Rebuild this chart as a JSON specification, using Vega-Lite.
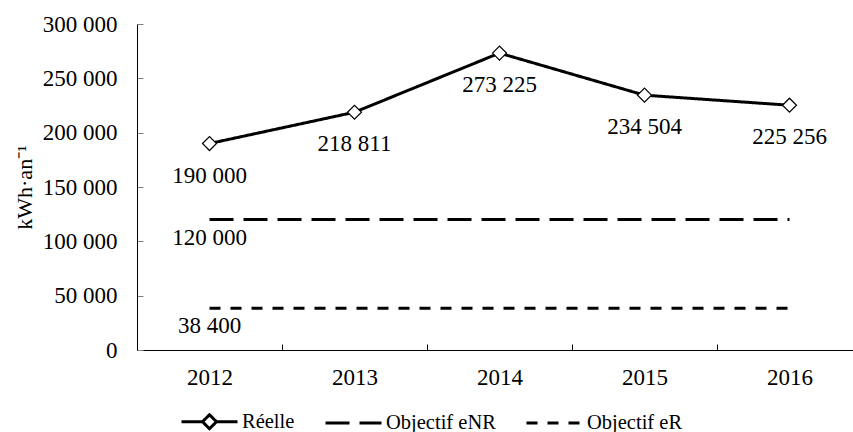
{
  "$schema": "https://vega.github.io/schema/vega-lite/v6.json",
  "width": 716,
  "height": 326,
  "autosize": {"type": "none"},
  "padding": {"left": 137, "top": 24, "right": 0, "bottom": 82},
  "background": "white",
  "config": {
    "font": "Liberation Serif",
    "view": {"stroke": null},
    "locale": {"number": {"decimal": ",", "thousands": "\u00a0", "grouping": [3], "currency": ["", " €"]}}
  },
  "data": {
    "values": [
      {"annee": "2012", "serie": "Réelle", "valeur": 190000},
      {"annee": "2013", "serie": "Réelle", "valeur": 218811},
      {"annee": "2014", "serie": "Réelle", "valeur": 273225},
      {"annee": "2015", "serie": "Réelle", "valeur": 234504},
      {"annee": "2016", "serie": "Réelle", "valeur": 225256},
      {"annee": "2012", "serie": "Objectif eNR", "valeur": 120000},
      {"annee": "2013", "serie": "Objectif eNR", "valeur": 120000},
      {"annee": "2014", "serie": "Objectif eNR", "valeur": 120000},
      {"annee": "2015", "serie": "Objectif eNR", "valeur": 120000},
      {"annee": "2016", "serie": "Objectif eNR", "valeur": 120000},
      {"annee": "2012", "serie": "Objectif eR", "valeur": 38400},
      {"annee": "2013", "serie": "Objectif eR", "valeur": 38400},
      {"annee": "2014", "serie": "Objectif eR", "valeur": 38400},
      {"annee": "2015", "serie": "Objectif eR", "valeur": 38400},
      {"annee": "2016", "serie": "Objectif eR", "valeur": 38400}
    ]
  },
  "encoding": {
    "x": {
      "field": "annee", "type": "nominal",
      "scale": {"type": "band", "paddingInner": 0, "paddingOuter": 0, "range": [0, 725]},
      "axis": {
        "title": null, "labelAngle": 0, "labelFontSize": 23, "labelColor": "black",
        "tickSize": -6, "tickColor": "black", "domainColor": "black", "tickBand": "extent",
        "labelPadding": 22, "grid": false
      }
    },
    "y": {
      "field": "valeur", "type": "quantitative",
      "scale": {"domain": [0, 300000], "nice": false},
      "axis": {
        "title": "kWh·an⁻¹", "values": [0, 50000, 100000, 150000, 200000, 250000, 300000],
        "format": ",.0f", "labelFontSize": 23, "labelColor": "black",
        "tickSize": -6, "tickColor": "#808080", "domainColor": "black",
        "labelPadding": 26, "titleFontSize": 22, "titleFontWeight": "normal", "titleColor": "black",
        "titlePadding": 6, "grid": false
      }
    }
  },
  "layer": [
    {
      "mark": {"type": "line", "color": "black", "strokeWidth": 3},
      "encoding": {
        "strokeDash": {
          "field": "serie", "type": "nominal",
          "scale": {"domain": ["Réelle", "Objectif eNR", "Objectif eR"], "range": [[1, 0], [24, 10], [11, 10]]},
          "legend": {
            "title": null, "orient": "none", "legendX": 43, "legendY": 368, "direction": "horizontal",
            "symbolType": "stroke", "symbolSize": 3136, "symbolStrokeWidth": 3, "symbolStrokeColor": "black",
            "labelFontSize": 20.5, "labelColor": "black", "labelFont": "Liberation Serif",
            "columnPadding": 24, "labelOffset": 3,
            "encode": {
              "symbols": {
                "update": {
                  "shape": {"signal": "datum.value === 'Réelle' ? 'M-1,0L-0.25,0M0,-0.25L0.25,0L0,0.25L-0.25,0ZM0.25,0L1,0' : 'stroke'"},
                  "strokeDash": {"signal": "datum.value === 'Objectif eNR' ? [26,5] : datum.value === 'Objectif eR' ? [13,8] : [1,0]"},
                  "fill": {"value": "white"},
                  "stroke": {"value": "black"}
                }
              }
            }
          }
        }
      }
    },
    {
      "transform": [{"filter": "datum.serie === 'Réelle'"}],
      "mark": {"type": "point", "shape": "diamond", "filled": true, "fill": "white", "stroke": "black", "strokeWidth": 1.2, "size": 196, "opacity": 1}
    },
    {
      "transform": [{"filter": "datum.serie === 'Réelle'"}],
      "mark": {"type": "text", "dy": 32, "fontSize": 23, "color": "black"},
      "encoding": {"text": {"field": "valeur", "type": "quantitative", "format": ",.0f"}}
    },
    {
      "transform": [{"filter": "datum.serie !== 'Réelle' && datum.annee === '2012'"}],
      "mark": {"type": "text", "dy": 18, "fontSize": 23, "color": "black"},
      "encoding": {"text": {"field": "valeur", "type": "quantitative", "format": ",.0f"}}
    }
  ]
}
